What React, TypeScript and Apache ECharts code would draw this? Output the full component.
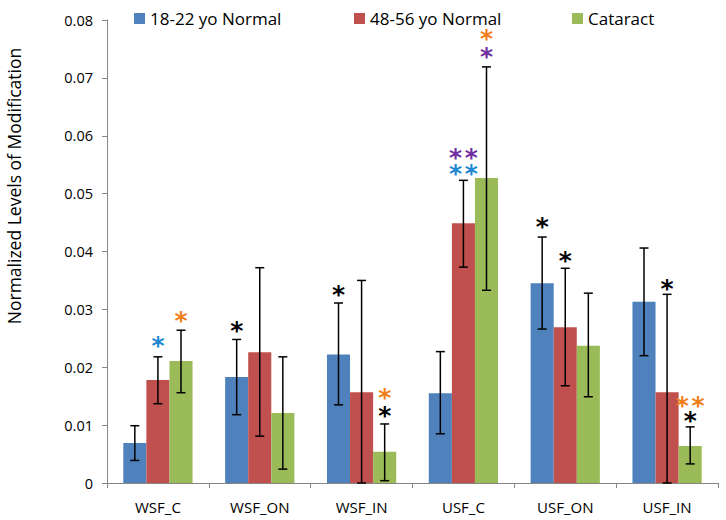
import React, { useEffect, useRef } from "react";
import * as echarts from "echarts";

const categories = ["WSF_C", "WSF_ON", "WSF_IN", "USF_C", "USF_ON", "USF_IN"];
const seriesNames = ["18-22 yo Normal", "48-56 yo Normal", "Cataract"];
const seriesColors = ["#4F81BD", "#C0504D", "#9BBB59"];

const young = [0.0069, 0.0183, 0.0222, 0.0155, 0.0345, 0.0313];
const middle = [0.0178, 0.0226, 0.0157, 0.0449, 0.0269, 0.0157];
const cataract = [0.0211, 0.0121, 0.0054, 0.0527, 0.0237, 0.0064];

const youngLow = [0.0039, 0.0118, 0.0135, 0.0085, 0.0266, 0.022];
const youngHigh = [0.0099, 0.0248, 0.0311, 0.0227, 0.0425, 0.0406];
const middleLow = [0.0137, 0.0081, 0.0, 0.0373, 0.0168, 0.0];
const middleHigh = [0.0218, 0.0372, 0.035, 0.0523, 0.0371, 0.0326];
const cataractLow = [0.0156, 0.0024, 0.0004, 0.0333, 0.0149, 0.0033];
const cataractHigh = [0.0264, 0.0218, 0.0102, 0.0719, 0.0328, 0.0097];

const yTicks = [0, 0.01, 0.02, 0.03, 0.04, 0.05, 0.06, 0.07, 0.08];
const yTitle = "Normalized Levels of Modification";

// significance markers: category index, bar index, y value, text, colour
const starCat = [0, 0, 1, 2, 2, 2, 3, 3, 3, 3, 4, 4, 5, 5, 5];
const starBar = [1, 2, 0, 0, 2, 2, 1, 1, 2, 2, 0, 1, 1, 2, 2];
const starY = [0.0244, 0.0287, 0.027, 0.0332, 0.0154, 0.0123, 0.0568, 0.054, 0.0774, 0.0743, 0.0449, 0.039, 0.0342, 0.014, 0.0114];
const starText = ["*", "*", "*", "*", "*", "*", "*\u200A*", "*\u200A*", "*", "*", "*", "*", "*", "*\u200A*", "*"];
const starColor = ["#1E88D2", "#F07F1B", "#000000", "#000000", "#F07F1B", "#000000", "#7030A0", "#1E88D2", "#F07F1B", "#7030A0", "#000000", "#000000", "#000000", "#F07F1B", "#000000"];

const GAP = 0.32;

export default function App() {
  const ref = useRef<HTMLDivElement>(null);
  useEffect(() => {
    if (!ref.current) return;
    const chart = echarts.init(ref.current, undefined, { renderer: "svg" });
    const font = "'Open Sans', sans-serif";
    const values = [young, middle, cataract];
    const lows = [youngLow, middleLow, cataractLow];
    const highs = [youngHigh, middleHigh, cataractHigh];

    const errData: number[][] = [];
    for (let s = 0; s < 3; s++) {
      for (let c = 0; c < categories.length; c++) {
        errData.push([c, lows[s][c], highs[s][c], s]);
      }
    }
    const starData = starCat.map((c, i) => [c, starBar[i], starY[i]]);

    const option: any = {
      animation: false,
      textStyle: { fontFamily: font },
      legend: seriesNames.map((n, i) => ({
        data: [n],
        left: [129, 349, 567][i],
        top: 5,
        icon: "rect",
        itemWidth: 11,
        itemHeight: 11,
        itemGap: 6,
        textStyle: { fontSize: 17, color: "#000", fontFamily: font },
      })),
      graphic: [
        {
          type: "text",
          x: 14,
          y: 186,
          rotation: Math.PI / 2,
          style: {
            text: yTitle,
            font: `17.5px ${font}`,
            fill: "#000",
            align: "center",
            verticalAlign: "middle",
          },
        },
      ],
      grid: { left: 107, right: 8, top: 20, bottom: 37, containLabel: false },
      xAxis: {
        type: "category",
        data: categories,
        axisLine: { lineStyle: { color: "#868686", width: 1 } },
        axisTick: { show: true, length: 5, lineStyle: { color: "#868686" } },
        axisLabel: { fontSize: 15, color: "#000", margin: 16, fontFamily: font },
      },
      yAxis: {
        type: "value",
        min: 0,
        max: 0.08,
        interval: 0.01,
        axisLine: { show: true, lineStyle: { color: "#868686" } },
        axisTick: { show: true, length: 5, lineStyle: { color: "#868686" } },
        splitLine: { show: false },
        axisLabel: {
          fontSize: 14.5,
          color: "#000",
          margin: 14,
          fontFamily: font,
          formatter: (v: number) => {
            const t = yTicks.find((x) => Math.abs(x - v) < 1e-9);
            return t === 0 ? "0" : (t ?? v).toFixed(2);
          },
        },
      },
      series: [
        ...values.map((arr, s) => ({
          name: seriesNames[s],
          type: "bar",
          data: arr,
          barGap: "0%",
          barCategoryGap: GAP * 100 + "%",
          itemStyle: { color: seriesColors[s] },
        })),
        {
          type: "custom",
          data: errData,
          z: 10,
          renderItem: (params: any, api: any) => {
            const c = api.value(0);
            const lo = api.value(1);
            const hi = api.value(2);
            const s = api.value(3);
            const band = api.size([1, 0])[0];
            const bw = (band * (1 - GAP)) / 3;
            const p1 = api.coord([c, lo]);
            const p2 = api.coord([c, hi]);
            const x = p1[0] + (s - 1) * bw;
            const cap = 4.5;
            const st = { stroke: "#000", lineWidth: 1.5 };
            return {
              type: "group",
              children: [
                { type: "line", shape: { x1: x, y1: p1[1], x2: x, y2: p2[1] }, style: st },
                { type: "line", shape: { x1: x - cap, y1: p1[1], x2: x + cap, y2: p1[1] }, style: st },
                { type: "line", shape: { x1: x - cap, y1: p2[1], x2: x + cap, y2: p2[1] }, style: st },
              ],
            };
          },
        },
        {
          type: "custom",
          data: starData,
          z: 11,
          renderItem: (params: any, api: any) => {
            const i = params.dataIndex;
            const c = api.value(0);
            const b = api.value(1);
            const y = api.value(2);
            const band = api.size([1, 0])[0];
            const bw = (band * (1 - GAP)) / 3;
            const p = api.coord([c, y]);
            const x = p[0] + (b - 1) * bw;
            const fs = 25;
            return {
              type: "text",
              x,
              y: p[1] + 3.5,
              style: {
                text: starText[i],
                fill: starColor[i],
                font: `bold ${fs}px 'DejaVu Sans', sans-serif`,
                lineHeight: 16,
                align: "center",
                verticalAlign: "middle",
              },
            };
          },
        },
      ],
    };
    chart.setOption(option);
    return () => chart.dispose();
  }, []);
  return (
    <div
      ref={ref}
      style={{ position: "absolute", left: 0, top: 0, width: 726, height: 520 }}
    />
  );
}
